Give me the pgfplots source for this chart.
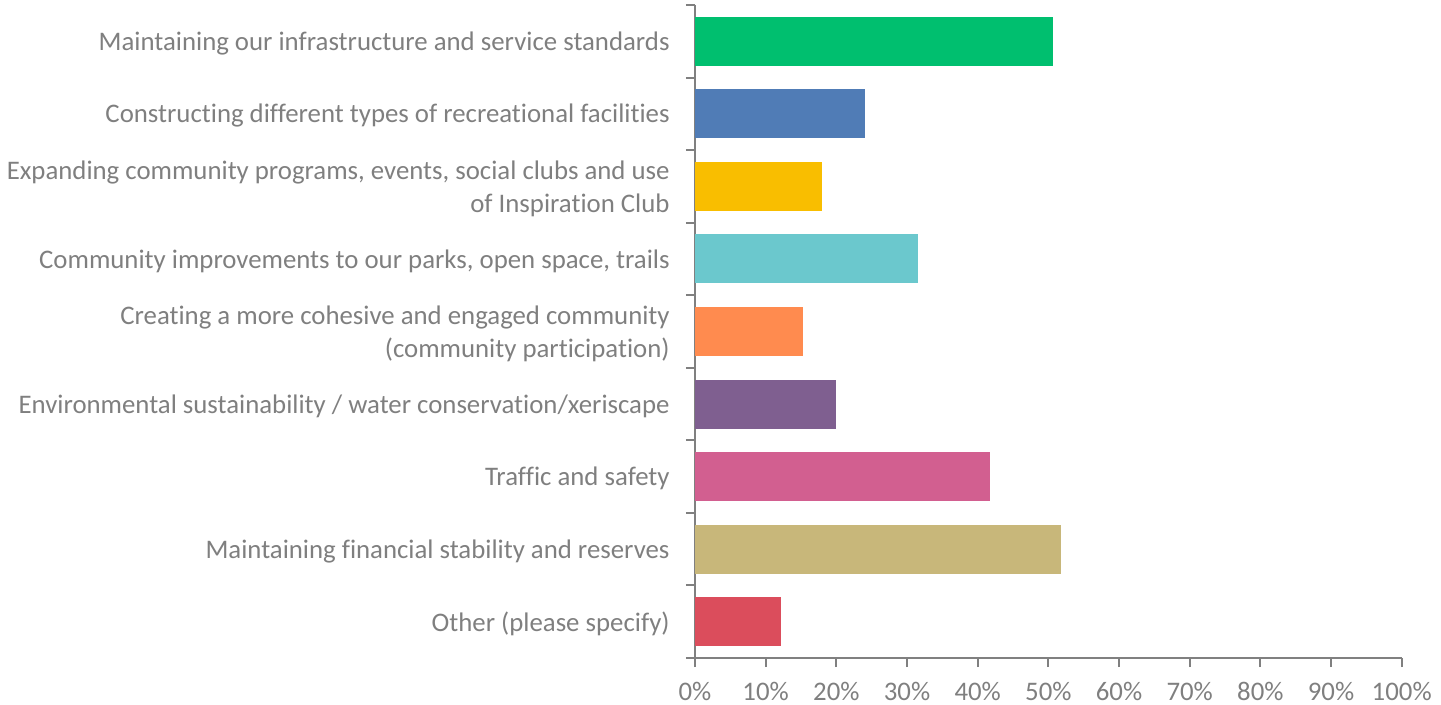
\documentclass[border=0pt]{standalone}
\usepackage{pgfplots}
\pgfplotsset{compat=1.18}
\usepackage{fontspec}
\setmainfont{Carlito}[Ligatures=NoCommon]
\definecolor{axgray}{HTML}{808080}
\definecolor{txtgray}{HTML}{7F7F7F}
\definecolor{c1}{HTML}{00BF6F}
\definecolor{c2}{HTML}{507CB6}
\definecolor{c3}{HTML}{F9BE00}
\definecolor{c4}{HTML}{6BC8CD}
\definecolor{c5}{HTML}{FF8B4F}
\definecolor{c6}{HTML}{7F5F90}
\definecolor{c7}{HTML}{D25F90}
\definecolor{c8}{HTML}{C8B77A}
\definecolor{c9}{HTML}{DB4D5C}
\begin{document}
\begin{tikzpicture}
\useasboundingbox (-347.5pt,-23.5pt) rectangle (373pt,329pt);
\begin{axis}[
  at={(0,0)}, anchor=south west,
  scale only axis,
  width=353.35pt, height=326.5pt,
  xbar, bar width=0.675, bar shift=0pt,
  xmin=0, xmax=100,
  ymin=-0.5, ymax=8.5, y dir=reverse,
  axis x line*=bottom, axis y line*=left,
  axis line style={draw=axgray, line width=1pt, -},
  tick align=outside,
  major tick length=4.5pt,
  xtick={0,10,...,100},
  xtick style={draw=axgray, line width=1pt},
  xticklabels={0\%,10\%,20\%,30\%,40\%,50\%,60\%,70\%,80\%,90\%,100\%},
  ytick={0,...,8},
  ytick style={draw=none},
  extra y ticks={-0.5,0.5,...,8.5},
  extra y tick labels={},
  extra y tick style={ytick style={draw=axgray, line width=1pt}},
  yticklabels={
    Maintaining our infrastructure and service standards,
    Constructing different types of recreational facilities,
    {Expanding community programs, events, social clubs and use\\of Inspiration Club},
    {Community improvements to our parks, open space, trails},
    {Creating a more cohesive and engaged community\\(community participation)},
    Environmental sustainability / water conservation/xeriscape,
    Traffic and safety,
    Maintaining financial stability and reserves,
    Other (please specify)},
  yticklabel style={anchor=east, align=right, inner sep=0pt, xshift=-8pt, yshift=-1pt,
    font=\fontsize{13.4}{16.5}\selectfont, text=txtgray},
  xticklabel style={anchor=base, inner sep=0pt, yshift=-16.5pt,
    font=\fontsize{13.4}{16.5}\selectfont, text=txtgray},
  clip=false,
]
\addplot[fill=c1, draw=none] coordinates {(50.7,0)};
\addplot[fill=c2, draw=none] coordinates {(24.1,1)};
\addplot[fill=c3, draw=none] coordinates {(18.0,2)};
\addplot[fill=c4, draw=none] coordinates {(31.6,3)};
\addplot[fill=c5, draw=none] coordinates {(15.3,4)};
\addplot[fill=c6, draw=none] coordinates {(20.0,5)};
\addplot[fill=c7, draw=none] coordinates {(41.7,6)};
\addplot[fill=c8, draw=none] coordinates {(51.8,7)};
\addplot[fill=c9, draw=none] coordinates {(12.2,8)};
\end{axis}
\end{tikzpicture}
\end{document}
